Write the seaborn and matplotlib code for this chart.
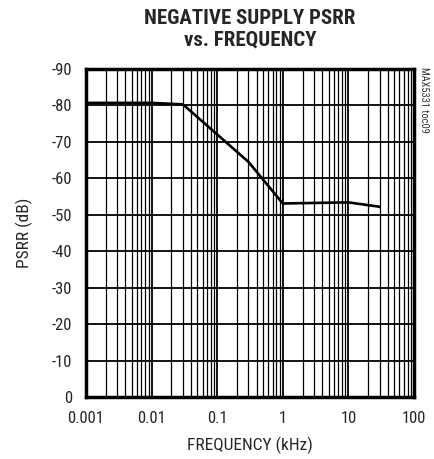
import numpy as np
import pandas as pd
import matplotlib
matplotlib.use('Agg')
import matplotlib.pyplot as plt
import seaborn as sns
from matplotlib.ticker import LogLocator, FixedLocator, FixedFormatter, NullFormatter

# values
freq_khz = [0.001, 0.01, 0.03, 0.3, 1, 10, 30]
psrr_db = [-80.7, -80.7, -80.3, -64.5, -53.1, -53.4, -52.2]

x_ticks = [0.001, 0.01, 0.1, 1, 10, 100]
x_tick_labels = ['0.001', '0.01', '0.1', '1', '10', '100']
y_ticks = [0, -10, -20, -30, -40, -50, -60, -70, -80, -90]

df = pd.DataFrame({'freq': freq_khz, 'psrr': psrr_db})

sns.set_style('white')
plt.rcParams['font.family'] = ['Liberation Sans Narrow', 'Roboto Condensed', 'Liberation Sans', 'DejaVu Sans']

fig = plt.figure(figsize=(4.35, 4.59), dpi=100)
ax = fig.add_axes([86 / 435, 1 - 397 / 459, 328 / 435, 328 / 459])

sns.lineplot(data=df, x='freq', y='psrr', ax=ax, color='black', linewidth=1.9)

ax.set_xscale('log')
ax.set_xlim(0.001, 100)
ax.set_ylim(0, -90)

ax.xaxis.set_major_locator(FixedLocator(x_ticks))
ax.xaxis.set_major_formatter(FixedFormatter(x_tick_labels))
ax.xaxis.set_minor_locator(LogLocator(base=10, subs=np.arange(2, 10), numticks=20))
ax.xaxis.set_minor_formatter(NullFormatter())
ax.set_yticks(y_ticks)
ax.set_yticklabels([str(v) for v in y_ticks])

ax.grid(True, which='major', axis='both', color='black', linewidth=1.3)
ax.grid(True, which='minor', axis='x', color='black', linewidth=0.9)
ax.tick_params(which='both', length=0, labelsize=12)
ax.tick_params(axis='x', pad=10)
ax.tick_params(axis='y', pad=10)

for s in ax.spines.values():
    s.set_linewidth(2.5)
    s.set_color('black')

ax.set_xlabel('FREQUENCY (kHz)', fontsize=12.5)
ax.set_ylabel('PSRR (dB)', fontsize=12.5)
ax.xaxis.set_label_coords(0.5, -0.148)
ax.yaxis.set_label_coords(-0.189, 0.5)
ax.xaxis.label.set_va('center')
ax.yaxis.label.set_va('center')

fig.text(250 / 435, 1 - 29 / 459, 'NEGATIVE SUPPLY PSRR\nvs. FREQUENCY', ha='center', va='center',
         fontsize=15, fontweight='bold', linespacing=1.2)
fig.text(424 / 435, 1 - 100 / 459, 'MAX5331 toc09', rotation=270, ha='center', va='center',
         fontsize=7.5, color='#333333')

fig.savefig('out.png', dpi=100)
plt.close()
